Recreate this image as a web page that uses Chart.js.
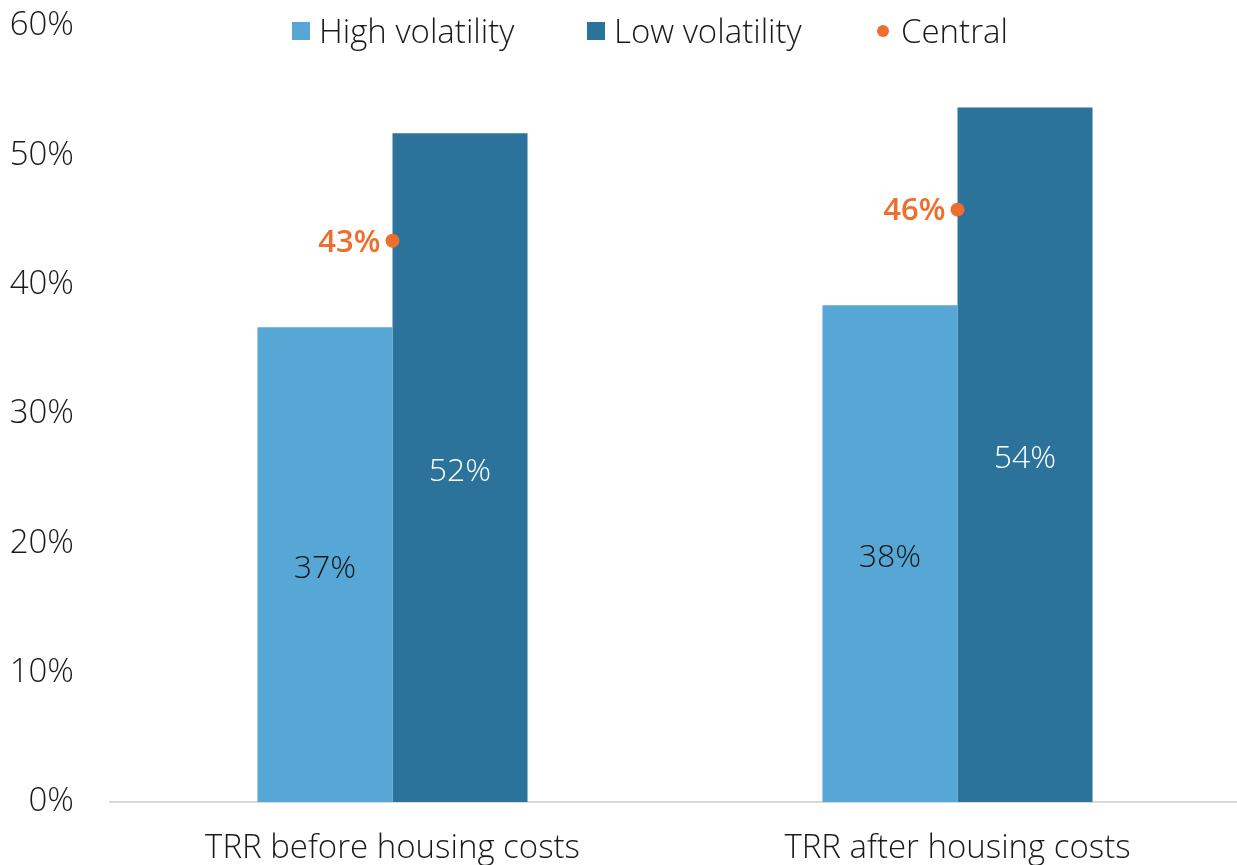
<!DOCTYPE html>
<html>
<head>
<meta charset="utf-8">
<script src="https://cdn.jsdelivr.net/npm/chart.js@4.4.0/dist/chart.umd.min.js"></script>
<style>
  html, body { margin: 0; padding: 0; background: #fff; overflow: hidden; }
  #wrap { width: 1240px; height: 865px; position: relative; }
</style>
</head>
<body>
<div id="wrap"><canvas id="c"></canvas></div>
<script>
const categories = ['TRR before housing costs', 'TRR after housing costs'];
const highVolatility = [36.7, 38.4];
const lowVolatility = [51.7, 53.7];
const central = [43.4, 45.8];
const seriesNames = ['High volatility', 'Low volatility', 'Central'];
const yTicks = [0, 10, 20, 30, 40, 50, 60];

const COL_HIGH = '#56A6D6';
const COL_LOW = '#2C739B';
const COL_CENTRAL = '#EE6F2D';
const FONT = '"Open Sans", Lato, sans-serif';
const WEIGHT = '300';
const FS = 33;

const labelPlugin = {
  id: 'valueLabels',
  afterDatasetsDraw(chart) {
    const ctx = chart.ctx;
    ctx.save();
    chart.data.datasets.forEach((ds, i) => {
      const meta = chart.getDatasetMeta(i);
      meta.data.forEach((el, j) => {
        const v = ds.data[j];
        const txt = Math.round(v) + '%';
        if (ds.type === 'line') {
          ctx.font = '600 31px ' + FONT;
          ctx.fillStyle = COL_CENTRAL;
          ctx.textAlign = 'right';
          ctx.textBaseline = 'middle';
          ctx.fillText(txt, el.x - 12, el.y + 2);
        } else {
          const cy = (el.y + el.base) / 2;
          ctx.font = WEIGHT + ' 32px ' + FONT;
          ctx.fillStyle = i === 0 ? '#161616' : '#ffffff';
          ctx.textAlign = 'center';
          ctx.textBaseline = 'middle';
          ctx.fillText(txt, el.x, cy + 4);
        }
      });
    });
    ctx.restore();
  }
};

const legendPlugin = {
  id: 'customLegend',
  afterDraw(chart) {
    const ctx = chart.ctx;
    ctx.save();
    ctx.font = WEIGHT + ' ' + FS + 'px ' + FONT;
    ctx.textBaseline = 'middle';
    ctx.textAlign = 'left';
    const y = 31;
    const starts = [292, 587, 877];
    chart.data.datasets.forEach((ds, i) => {
      const x = starts[i];
      if (ds.type === 'line') {
        ctx.fillStyle = ds.backgroundColor;
        ctx.beginPath();
        ctx.arc(x + 6, y, 6, 0, Math.PI * 2);
        ctx.fill();
        ctx.fillStyle = '#1a1a1a';
        ctx.fillText(ds.label, x + 24, y + 3);
      } else {
        ctx.fillStyle = ds.backgroundColor;
        ctx.fillRect(x, y - 9, 18, 18);
        ctx.fillStyle = '#1a1a1a';
        ctx.fillText(ds.label, x + 27, y + 3);
      }
    });
    ctx.restore();
  }
};

new Chart(document.getElementById('c'), {
  type: 'bar',
  data: {
    labels: categories,
    datasets: [
      { label: seriesNames[0], data: highVolatility, backgroundColor: COL_HIGH, order: 2,
        categoryPercentage: 0.478, barPercentage: 1.0 },
      { label: seriesNames[1], data: lowVolatility, backgroundColor: COL_LOW, order: 2,
        categoryPercentage: 0.478, barPercentage: 1.0 },
      { type: 'line', label: seriesNames[2], data: central, backgroundColor: COL_CENTRAL,
        borderColor: COL_CENTRAL, showLine: false, pointRadius: 7, pointHoverRadius: 7,
        pointBorderWidth: 0, order: 1, clip: false }
    ]
  },
  options: {
    responsive: true,
    maintainAspectRatio: false,
    animation: false,
    layout: { autoPadding: false, padding: { top: 26, left: 0, right: 0, bottom: 0 } },
    plugins: {
      legend: { display: false },
      tooltip: { enabled: false }
    },
    scales: {
      x: {
        afterFit(axis) { axis.height = 63; },
        grid: { display: false, drawTicks: false },
        border: { display: true, color: '#D9D9D9', width: 2 },
        ticks: { color: '#1a1a1a', font: { family: FONT, size: FS, weight: WEIGHT }, padding: 27, maxRotation: 0 }
      },
      y: {
        min: 0, max: 60,
        afterBuildTicks(axis) { axis.ticks = yTicks.map(v => ({ value: v })); },
        afterFit(axis) { axis.width = 110; axis.paddingTop = 0; axis.paddingBottom = 0; },
        grid: { display: false, drawTicks: false },
        border: { display: false },
        ticks: {
          color: '#1a1a1a', font: { family: FONT, size: FS, weight: WEIGHT }, padding: 36,
          callback: v => v + '%'
        }
      }
    }
  },
  plugins: [labelPlugin, legendPlugin]
});
</script>
</body>
</html>
